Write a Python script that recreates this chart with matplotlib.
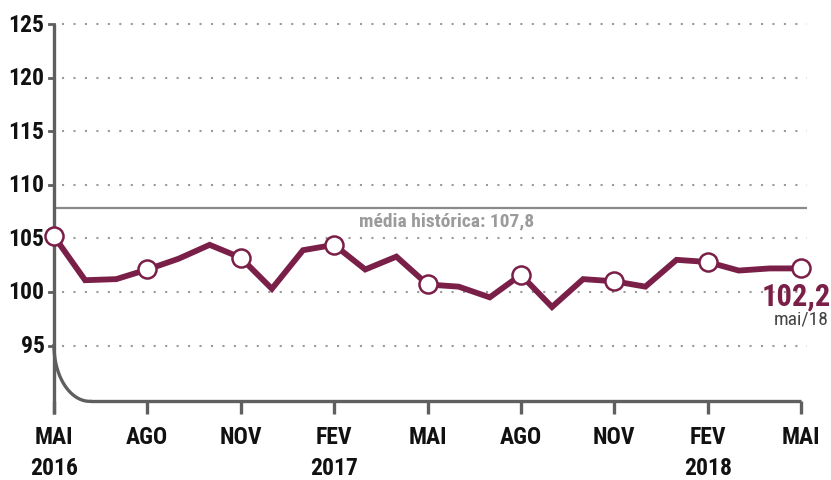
import numpy as np
import matplotlib
matplotlib.use("Agg")
import matplotlib.pyplot as plt

plt.rcParams['font.family'] = ['Roboto Condensed', 'Open Sans Condensed', 'Liberation Sans Narrow',
                               'Roboto', 'DejaVu Sans']

# ---- data ----
values = [105.2, 101.1, 101.2, 102.1, 103.1, 104.4, 103.2, 100.3, 103.9, 104.4,
          102.1, 103.3, 100.7, 100.5, 99.5, 101.6, 98.6, 101.2, 101.0, 100.5,
          103.0, 102.8, 102.0, 102.2, 102.2]
month_labels = ["MAI", "AGO", "NOV", "FEV", "MAI", "AGO", "NOV", "FEV", "MAI"]
year_labels = {0: "2016", 9: "2017", 21: "2018"}
y_ticks = [95, 100, 105, 110, 115, 120, 125]
hist_mean = 107.8
mean_label = "média histórica: 107,8"
last_label = "102,2"
last_date = "mai/18"

MAROON = "#7a1f47"
GRAY = "#5f5f5f"

W, H = 831, 481
fig = plt.figure(figsize=(W / 100, H / 100), dpi=100)

px_per_unit_x = (801 - 54) / 24
x_right = 24.2
y_bot, y_top = 89.8, 125.5
px_per_unit_y = (293 - 25) / 25
top_px = 293 - (y_top - 100) * px_per_unit_y
bot_px = 293 + (100 - y_bot) * px_per_unit_y
ax = fig.add_axes([54 / W, (H - bot_px) / H, (x_right * px_per_unit_x) / W, (bot_px - top_px) / H])
ax.set_xlim(0, x_right)
ax.set_ylim(y_bot, y_top)
ax.axis('off')

x = np.arange(len(values))

# grid lines
for yt in y_ticks:
    ax.plot([0.25, x_right], [yt, yt], color="#9a9a9a", lw=1.5, ls=(0, (1, 4.5)), zorder=1)
    ax.plot([-0.15, 0], [yt, yt], color=GRAY, lw=2, clip_on=False, zorder=2)
    ax.text(-0.3, yt, str(yt), ha='right', va='center', fontsize=17, fontweight='bold',
            color="#111111")

# left spine
tick_len = 13 / px_per_unit_y
ax.plot([0, 0], [125, y_bot - tick_len], color=GRAY, lw=2.4, clip_on=False, zorder=3, solid_capstyle='butt')
# rounded corner into bottom axis
cx, cy = 1.15, 95
rx, ry = 1.15, 95 - y_bot
t = np.linspace(np.pi, 1.5 * np.pi, 60)
ax.plot(cx + rx * np.cos(t), cy + ry * np.sin(t), color=GRAY, lw=2.4, clip_on=False, zorder=3)
ax.plot([cx, 24], [y_bot, y_bot], color=GRAY, lw=2.4, clip_on=False, zorder=3, solid_capstyle='butt')
# x ticks
for i, lab in zip(range(0, 25, 3), month_labels):
    ax.plot([i, i], [y_bot, y_bot - tick_len], color=GRAY, lw=2.4, clip_on=False, zorder=3, solid_capstyle='butt')
    ax.text(i, y_bot - 3.3, lab, ha='center', va='center', fontsize=17, fontweight='bold', color="#111111")
for i, lab in year_labels.items():
    ax.text(i, y_bot - 6.15, lab, ha='center', va='center', fontsize=17, fontweight='bold', color="#111111")

# historical mean
ax.plot([0, x_right], [hist_mean, hist_mean], color="#8a8a8a", lw=1.6, zorder=2)
ax.text(12.6, hist_mean - 1.15, mean_label, ha='center', va='center', fontsize=14,
        fontweight='bold', color="#9b9b9b")

# main series
ax.plot(x, values, color=MAROON, lw=4.2, zorder=4, solid_joinstyle='miter', clip_on=False)
ax.plot(x[::3], np.array(values)[::3], ls='none', marker='o', ms=13, mfc='white',
        mec=MAROON, mew=1.8, zorder=5, clip_on=False)

# last value annotation
ax.text(24.95, 99.7, last_label, ha='right', va='center', fontsize=22, fontweight='bold',
        color=MAROON)
ax.text(24.9, 97.5, last_date, ha='right', va='center', fontsize=14, color="#444444")

fig.savefig("out.png", dpi=100)
